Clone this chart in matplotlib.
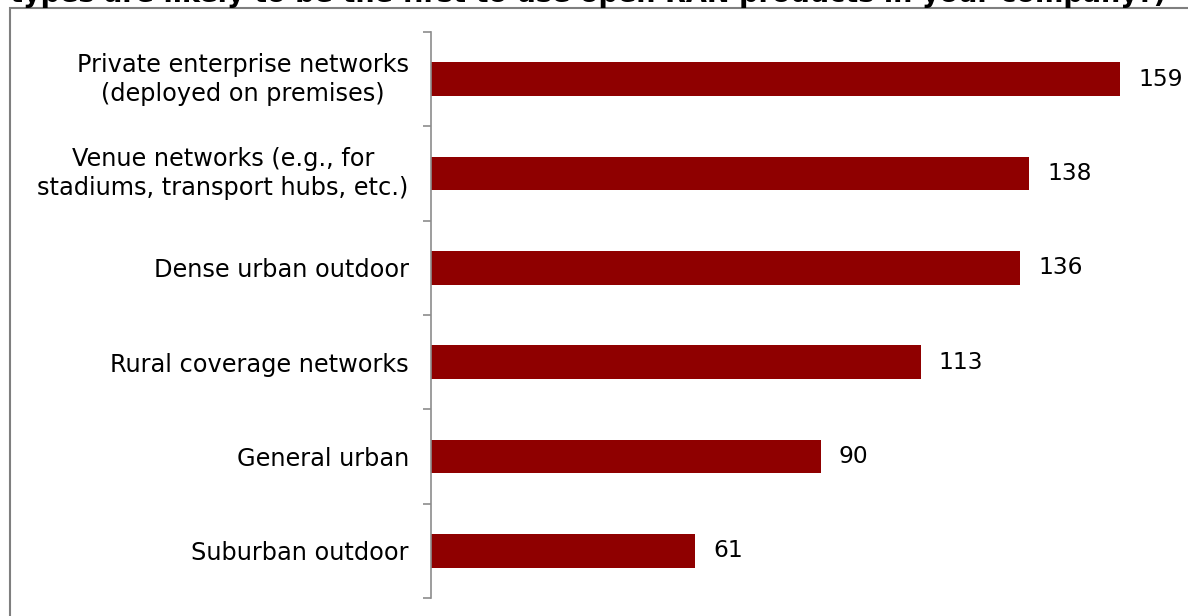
import matplotlib
matplotlib.use("Agg")
import matplotlib.pyplot as plt
from matplotlib.patches import Rectangle
from matplotlib.transforms import ScaledTranslation

# data (top to bottom as in the chart)
categories = [
    "Private enterprise networks\n(deployed on premises)",
    "Venue networks (e.g., for\nstadiums, transport hubs, etc.)",
    "Dense urban outdoor",
    "Rural coverage networks",
    "General urban",
    "Suburban outdoor",
]
values = [159, 138, 136, 113, 90, 61]
title_text = "types are likely to be the first to use open RAN products in your company?)"

W, H = 1188, 616
fig = plt.figure(figsize=(W / 100, H / 100), dpi=100)

# outer frame of the chart area (runs off the right and bottom edge)
fig.patches.append(Rectangle((10 / W, -0.1), 1.2, 1 - 8 / H + 0.1,
                             transform=fig.transFigure, fill=False,
                             edgecolor="#7f7f7f", linewidth=1.5))

# cut-off title at the very top
fig.text(10 / W, 1 - 2.5 / H, title_text, fontsize=19.5, fontweight="bold",
         va="baseline", ha="left", color="black")

ax = fig.add_axes([431 / W, 18 / H, (W - 431) / W, 566 / H])

n = len(categories)
ypos = list(range(n))[::-1]
ax.barh(ypos, values, height=0.36, color="#8f0000", edgecolor="none")

for y, v in zip(ypos, values):
    ax.annotate(str(v), xy=(v, y), xytext=(18, 0), textcoords="offset pixels",
                va="center", ha="left", fontsize=16.8, color="black")

ax.set_xlim(0, (W - 431) / (689 / 159))
ax.set_ylim(-0.5, n - 0.5)

# tick marks at category boundaries, labels centred on the bars
ax.set_yticks([i - 0.5 for i in range(n + 1)])
ax.set_yticklabels([])
ax.set_yticks(ypos, minor=True)
labels = ax.set_yticklabels(categories, minor=True, fontsize=17.3,
                            multialignment="center", linespacing=1.28)
ax.tick_params(axis="y", which="major", length=6, width=1.2, color="#8c8c8c", direction="out")
ax.tick_params(axis="y", which="minor", length=0, pad=16)
ax.set_xticks([])

# two-line labels sit a little high in the original
for lab in labels:
    if "\n" in lab.get_text():
        lab.set_transform(lab.get_transform() + ScaledTranslation(0, 5 / 100, fig.dpi_scale_trans))

for s in ["top", "right", "bottom"]:
    ax.spines[s].set_visible(False)
ax.spines["left"].set_color("#8c8c8c")
ax.spines["left"].set_linewidth(1.2)

fig.savefig("out.png", dpi=100)
